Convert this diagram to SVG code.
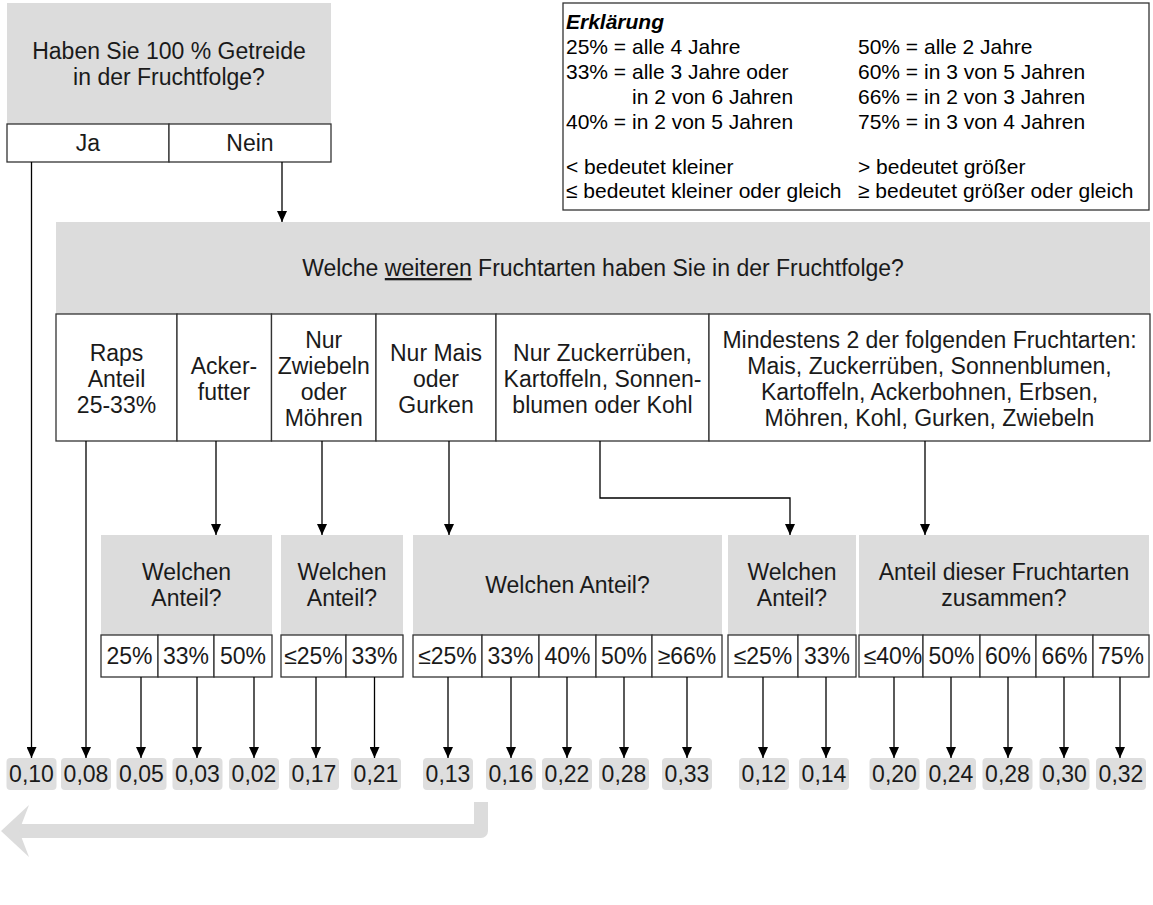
<svg xmlns="http://www.w3.org/2000/svg" width="1153" height="905" viewBox="0 0 1153 905">
<defs>
<marker id="ah" viewBox="0 0 11 10" refX="11" refY="5" markerWidth="11" markerHeight="10" markerUnits="userSpaceOnUse" orient="auto"><path d="M0,0 L11,5 L0,10 z" fill="#000"/></marker>
<style>
.t{font-family:"Liberation Sans",Arial,Helvetica,sans-serif;font-size:23px;fill:#1a1a1a;text-anchor:middle}
.lg{font-family:"Liberation Sans",Arial,Helvetica,sans-serif;font-size:21px;fill:#000}
.q{fill:#dcdcdc}
.c{fill:#fff;stroke:#333;stroke-width:1.3}
.v{fill:#dedede}
.ln{fill:none;stroke:#000;stroke-width:1.3;marker-end:url(#ah)}
</style>
</defs>
<rect width="1153" height="905" fill="#fff"/>

<g id="q-getreide">
<rect class="q" x="7" y="3" width="324" height="121"/>
<text class="t" x="169" y="59">Haben Sie 100 % Getreide</text>
<text class="t" x="169" y="85">in der Fruchtfolge?</text>
<rect class="c" x="7" y="124" width="162" height="38"/>
<rect class="c" x="169" y="124" width="162" height="38"/>
<text class="t" x="88" y="151">Ja</text>
<text class="t" x="250" y="151">Nein</text>
</g>

<g id="legend">
<rect x="563" y="3" width="586" height="207" fill="#fff" stroke="#333" stroke-width="1.3"/>
<text class="lg" x="566" y="29" font-weight="bold" font-style="italic">Erklärung</text>
<text class="lg" x="566" y="54">25% = alle 4 Jahre</text>
<text class="lg" x="566" y="79">33% = alle 3 Jahre oder</text>
<text class="lg" x="632" y="104">in 2 von 6 Jahren</text>
<text class="lg" x="566" y="129">40% = in 2 von 5 Jahren</text>
<text class="lg" x="566" y="174">&lt; bedeutet kleiner</text>
<text class="lg" x="566" y="198">≤ bedeutet kleiner oder gleich</text>
<text class="lg" x="858" y="54">50% = alle 2 Jahre</text>
<text class="lg" x="858" y="79">60% = in 3 von 5 Jahren</text>
<text class="lg" x="858" y="104">66% = in 2 von 3 Jahren</text>
<text class="lg" x="858" y="129">75% = in 3 von 4 Jahren</text>
<text class="lg" x="858" y="174">&gt; bedeutet größer</text>
<text class="lg" x="858" y="198">≥ bedeutet größer oder gleich</text>
</g>

<g id="q-weitere">
<rect class="q" x="56" y="222" width="1094" height="92"/>
<text class="t" x="603" y="276">Welche <tspan text-decoration="underline">weiteren</tspan> Fruchtarten haben Sie in der Fruchtfolge?</text>
</g>

<g id="opt-raps">
<rect class="c" x="56" y="314" width="121" height="127"/>
<text class="t" x="116.5" y="361">Raps</text>
<text class="t" x="116.5" y="387">Anteil</text>
<text class="t" x="116.5" y="413">25-33%</text>
</g>
<g id="opt-ackerfutter">
<rect class="c" x="177" y="314" width="94.5" height="127"/>
<text class="t" x="224" y="374">Acker-</text>
<text class="t" x="224" y="400">futter</text>
</g>
<g id="opt-zwiebeln">
<rect class="c" x="271.5" y="314" width="104.5" height="127"/>
<text class="t" x="323.7" y="348">Nur</text>
<text class="t" x="323.7" y="374">Zwiebeln</text>
<text class="t" x="323.7" y="400">oder</text>
<text class="t" x="323.7" y="426">Möhren</text>
</g>
<g id="opt-mais">
<rect class="c" x="376" y="314" width="120" height="127"/>
<text class="t" x="436" y="361">Nur Mais</text>
<text class="t" x="436" y="387">oder</text>
<text class="t" x="436" y="413">Gurken</text>
</g>
<g id="opt-zucker">
<rect class="c" x="496" y="314" width="213" height="127"/>
<text class="t" x="602.5" y="361">Nur Zuckerrüben,</text>
<text class="t" x="602.5" y="387">Kartoffeln, Sonnen-</text>
<text class="t" x="602.5" y="413">blumen oder Kohl</text>
</g>
<g id="opt-mindestens">
<rect class="c" x="709" y="314" width="441" height="127"/>
<text class="t" x="929.5" y="348">Mindestens 2 der folgenden Fruchtarten:</text>
<text class="t" x="929.5" y="374">Mais, Zuckerrüben, Sonnenblumen,</text>
<text class="t" x="929.5" y="400">Kartoffeln, Ackerbohnen, Erbsen,</text>
<text class="t" x="929.5" y="426">Möhren, Kohl, Gurken, Zwiebeln</text>
</g>

<g id="q-acker-anteil">
<rect class="q" x="101" y="535" width="171" height="100"/>
<text class="t" x="186.5" y="580">Welchen</text>
<text class="t" x="186.5" y="606">Anteil?</text>
<rect class="c" x="101" y="635" width="57" height="42"/>
<rect class="c" x="158" y="635" width="56" height="42"/>
<rect class="c" x="214" y="635" width="58" height="42"/>
<text class="t" x="129.5" y="664">25%</text>
<text class="t" x="186" y="664">33%</text>
<text class="t" x="243" y="664">50%</text>
</g>

<g id="q-zwiebel-anteil">
<rect class="q" x="281" y="535" width="122" height="100"/>
<text class="t" x="342" y="580">Welchen</text>
<text class="t" x="342" y="606">Anteil?</text>
<rect class="c" x="281" y="635" width="65" height="42"/>
<rect class="c" x="346" y="635" width="57" height="42"/>
<text class="t" x="313.5" y="664">≤25%</text>
<text class="t" x="374.5" y="664">33%</text>
</g>

<g id="q-mais-anteil">
<rect class="q" x="413" y="535" width="309" height="100"/>
<text class="t" x="567.5" y="593">Welchen Anteil?</text>
<rect class="c" x="413" y="635" width="69" height="42"/>
<rect class="c" x="482" y="635" width="57" height="42"/>
<rect class="c" x="539" y="635" width="57" height="42"/>
<rect class="c" x="596" y="635" width="56" height="42"/>
<rect class="c" x="652" y="635" width="70" height="42"/>
<text class="t" x="447.5" y="664">≤25%</text>
<text class="t" x="510.5" y="664">33%</text>
<text class="t" x="567.5" y="664">40%</text>
<text class="t" x="624" y="664">50%</text>
<text class="t" x="687" y="664">≥66%</text>
</g>

<g id="q-zucker-anteil">
<rect class="q" x="728" y="535" width="128" height="100"/>
<text class="t" x="792" y="580">Welchen</text>
<text class="t" x="792" y="606">Anteil?</text>
<rect class="c" x="728" y="635" width="70" height="42"/>
<rect class="c" x="798" y="635" width="58" height="42"/>
<text class="t" x="763" y="664">≤25%</text>
<text class="t" x="827" y="664">33%</text>
</g>

<g id="q-zusammen-anteil">
<rect class="q" x="859" y="535" width="290" height="100"/>
<text class="t" x="1004" y="580">Anteil dieser Fruchtarten</text>
<text class="t" x="1004" y="606">zusammen?</text>
<rect class="c" x="859" y="635" width="64" height="42"/>
<rect class="c" x="923" y="635" width="57" height="42"/>
<rect class="c" x="980" y="635" width="56" height="42"/>
<rect class="c" x="1036" y="635" width="57" height="42"/>
<rect class="c" x="1093" y="635" width="56" height="42"/>
<text class="t" x="893" y="664">≤40%</text>
<text class="t" x="951.5" y="664">50%</text>
<text class="t" x="1008" y="664">60%</text>
<text class="t" x="1064.5" y="664">66%</text>
<text class="t" x="1121" y="664">75%</text>
</g>

<g id="values">
<g id="v1"><rect class="v" x="6.5" y="758" width="50" height="32" rx="4"/><text class="t" x="31.5" y="782">0,10</text></g>
<g id="v2"><rect class="v" x="61" y="758" width="50" height="32" rx="4"/><text class="t" x="86" y="782">0,08</text></g>
<g id="v3"><rect class="v" x="116.5" y="758" width="50" height="32" rx="4"/><text class="t" x="141.5" y="782">0,05</text></g>
<g id="v4"><rect class="v" x="172.5" y="758" width="50" height="32" rx="4"/><text class="t" x="197.5" y="782">0,03</text></g>
<g id="v5"><rect class="v" x="229" y="758" width="50" height="32" rx="4"/><text class="t" x="254" y="782">0,02</text></g>
<g id="v6"><rect class="v" x="289" y="758" width="50" height="32" rx="4"/><text class="t" x="314" y="782">0,17</text></g>
<g id="v7"><rect class="v" x="351" y="758" width="50" height="32" rx="4"/><text class="t" x="376" y="782">0,21</text></g>
<g id="v8"><rect class="v" x="423" y="758" width="50" height="32" rx="4"/><text class="t" x="448" y="782">0,13</text></g>
<g id="v9"><rect class="v" x="486" y="758" width="50" height="32" rx="4"/><text class="t" x="511" y="782">0,16</text></g>
<g id="v10"><rect class="v" x="542" y="758" width="50" height="32" rx="4"/><text class="t" x="567" y="782">0,22</text></g>
<g id="v11"><rect class="v" x="599" y="758" width="50" height="32" rx="4"/><text class="t" x="624" y="782">0,28</text></g>
<g id="v12"><rect class="v" x="662" y="758" width="50" height="32" rx="4"/><text class="t" x="687" y="782">0,33</text></g>
<g id="v13"><rect class="v" x="739" y="758" width="50" height="32" rx="4"/><text class="t" x="764" y="782">0,12</text></g>
<g id="v14"><rect class="v" x="799" y="758" width="50" height="32" rx="4"/><text class="t" x="824" y="782">0,14</text></g>
<g id="v15"><rect class="v" x="869.5" y="758" width="50" height="32" rx="4"/><text class="t" x="894.5" y="782">0,20</text></g>
<g id="v16"><rect class="v" x="926" y="758" width="50" height="32" rx="4"/><text class="t" x="951" y="782">0,24</text></g>
<g id="v17"><rect class="v" x="982.5" y="758" width="50" height="32" rx="4"/><text class="t" x="1007.5" y="782">0,28</text></g>
<g id="v18"><rect class="v" x="1039.5" y="758" width="50" height="32" rx="4"/><text class="t" x="1064.5" y="782">0,30</text></g>
<g id="v19"><rect class="v" x="1096" y="758" width="50" height="32" rx="4"/><text class="t" x="1121" y="782">0,32</text></g>
</g>

<g id="connectors">
<path class="ln" d="M31.5,162 V758"/>
<path class="ln" d="M282,162 V222"/>
<path class="ln" d="M86,441 V758"/>
<path class="ln" d="M216,441 V535"/>
<path class="ln" d="M322,441 V535"/>
<path class="ln" d="M449,441 V535"/>
<path class="ln" d="M600,441 V498 H790 V535"/>
<path class="ln" d="M925,441 V535"/>
<path class="ln" d="M141,677 V758"/>
<path class="ln" d="M197,677 V758"/>
<path class="ln" d="M254,677 V758"/>
<path class="ln" d="M316,677 V758"/>
<path class="ln" d="M374.5,677 V758"/>
<path class="ln" d="M448,677 V758"/>
<path class="ln" d="M511,677 V758"/>
<path class="ln" d="M567,677 V758"/>
<path class="ln" d="M624,677 V758"/>
<path class="ln" d="M687,677 V758"/>
<path class="ln" d="M763,677 V758"/>
<path class="ln" d="M826,677 V758"/>
<path class="ln" d="M894,677 V758"/>
<path class="ln" d="M951,677 V758"/>
<path class="ln" d="M1008,677 V758"/>
<path class="ln" d="M1064,677 V758"/>
<path class="ln" d="M1120,677 V758"/>
</g>

<g id="back-arrow">
<path d="M481,802 V831 H18" fill="none" stroke="#dcdcdc" stroke-width="14" stroke-linejoin="round"/>
<polygon points="1,831 29,805 19,831 29,857" fill="#dcdcdc"/>
</g>
</svg>
